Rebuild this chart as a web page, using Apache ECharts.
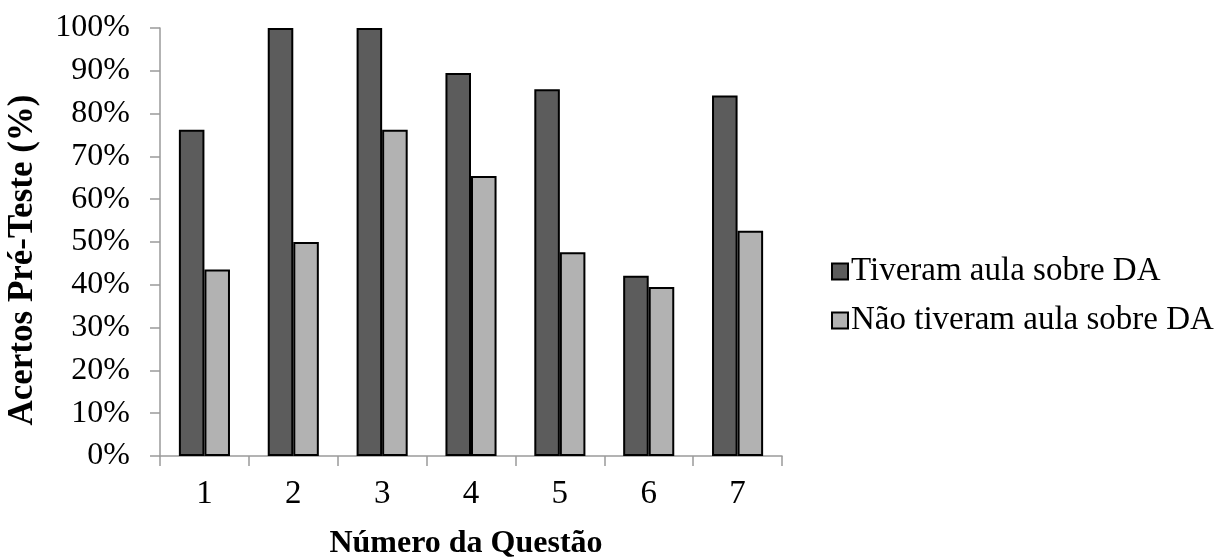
<!DOCTYPE html>
<html>
<head>
<meta charset="utf-8">
<script src="https://cdn.jsdelivr.net/npm/echarts@6/dist/echarts.min.js"></script>
<style>
html,body{margin:0;padding:0;background:#fff;}
#chart{width:1226px;height:558px;}
</style>
</head>
<body>
<div id="chart"></div>
<script>
const categories = ['1', '2', '3', '4', '5', '6', '7'];
const tiveramAula = [76.2, 100, 100, 89.5, 85.7, 42.1, 84.2];
const naoTiveramAula = [43.6, 50, 76.2, 65.4, 47.6, 39.5, 52.6];
const seriesNames = ['Tiveram aula sobre DA', 'Não tiveram aula sobre DA'];

const FONT = "'Liberation Serif', 'Times New Roman', serif";
const chart = echarts.init(document.getElementById('chart'));
chart.setOption({
  animation: false,
  backgroundColor: '#ffffff',
  textStyle: { fontFamily: FONT },
  grid: { left: 160, right: 444, top: 28, bottom: 102, containLabel: false, outerBoundsMode: 'none' },
  legend: {
    orient: 'vertical',
    left: 826,
    top: 250,
    itemWidth: 16,
    itemHeight: 16,
    itemGap: 16,
    icon: 'rect',
    textStyle: { fontFamily: FONT, fontSize: 33, color: '#000', padding: [0, 0, 0, -2] },
    data: seriesNames
  },
  xAxis: {
    type: 'category',
    data: categories,
    name: 'Número da Questão',
    nameLocation: 'middle',
    nameGap: 72,
    nameTextStyle: { fontFamily: FONT, fontSize: 32, fontWeight: 'bold', color: '#000', padding: [0, 10, 0, 0] },
    axisLine: { lineStyle: { color: '#9a9a9a', width: 1.5 } },
    axisTick: { show: true, length: 10, lineStyle: { color: '#9a9a9a', width: 1.5 } },
    axisLabel: { fontFamily: FONT, fontSize: 33, color: '#000', margin: 22 }
  },
  yAxis: {
    type: 'value',
    min: 0,
    max: 100,
    interval: 10,
    name: 'Acertos Pré-Teste (%)',
    nameLocation: 'middle',
    nameGap: 120,
    nameTextStyle: { fontFamily: FONT, fontSize: 35, fontWeight: 'bold', color: '#000', padding: [0, 36, 0, 0] },
    axisLine: { show: true, lineStyle: { color: '#9a9a9a', width: 1.5 } },
    axisTick: { show: true, length: 10, lineStyle: { color: '#9a9a9a', width: 1.5 } },
    splitLine: { show: false },
    axisLabel: { fontFamily: FONT, fontSize: 32, color: '#000', margin: 30, formatter: '{value}%' }
  },
  series: [
    {
      name: seriesNames[0],
      type: 'bar',
      data: tiveramAula,
      barGap: '0%',
      barCategoryGap: '42.5%',
      itemStyle: { color: '#5c5c5c', borderColor: '#000', borderWidth: 2 }
    },
    {
      name: seriesNames[1],
      type: 'bar',
      data: naoTiveramAula,
      barGap: '0%',
      barCategoryGap: '42.5%',
      itemStyle: { color: '#b2b2b2', borderColor: '#000', borderWidth: 2 }
    }
  ]
});
</script>
</body>
</html>
